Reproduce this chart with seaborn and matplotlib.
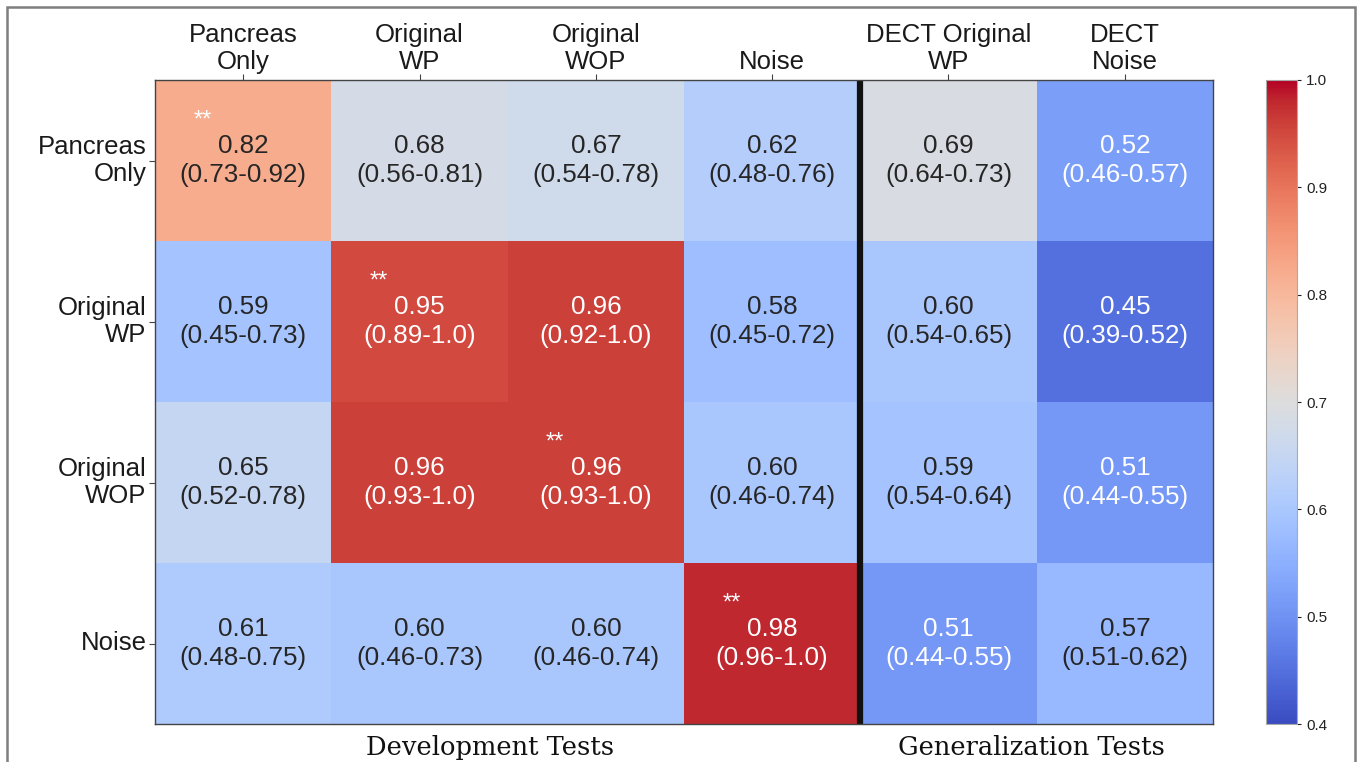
import numpy as np
import pandas as pd
import matplotlib
matplotlib.use("Agg")
import matplotlib.pyplot as plt
import seaborn as sns
from matplotlib.patches import Rectangle

train_labels = ["Pancreas\nOnly", "Original\nWP", "Original\nWOP", "Noise"]
test_labels = ["Pancreas\nOnly", "Original\nWP", "Original\nWOP", "Noise",
               "DECT Original\nWP", "DECT\nNoise"]

auc_mean = [
    [0.82, 0.68, 0.67, 0.62, 0.69, 0.52],
    [0.59, 0.95, 0.96, 0.58, 0.60, 0.45],
    [0.65, 0.96, 0.96, 0.60, 0.59, 0.51],
    [0.61, 0.60, 0.60, 0.98, 0.51, 0.57],
]
ci_text = [
    ["0.73-0.92", "0.56-0.81", "0.54-0.78", "0.48-0.76", "0.64-0.73", "0.46-0.57"],
    ["0.45-0.73", "0.89-1.0", "0.92-1.0", "0.45-0.72", "0.54-0.65", "0.39-0.52"],
    ["0.52-0.78", "0.93-1.0", "0.93-1.0", "0.46-0.74", "0.54-0.64", "0.44-0.55"],
    ["0.48-0.75", "0.46-0.73", "0.46-0.74", "0.96-1.0", "0.44-0.55", "0.51-0.62"],
]
significant = [(0, 0), (1, 1), (2, 2), (3, 3)]
group_labels = ["Development Tests", "Generalization Tests"]
colorbar_ticks = [0.4, 0.5, 0.6, 0.7, 0.8, 0.9, 1.0]

sns.set_theme(style="white")
plt.rcParams['font.family'] = ['Liberation Sans', 'DejaVu Sans']

data = pd.DataFrame(auc_mean, index=train_labels, columns=test_labels)
annot = np.array([[f"{auc_mean[i][j]:.2f}\n({ci_text[i][j]})" for j in range(6)]
                  for i in range(4)])

fig = plt.figure(figsize=(13.57, 7.62), dpi=100)
ax = fig.add_axes([155/1357, 1-724/762, (1213-155)/1357, (724-80)/762])
cax = fig.add_axes([1266/1357, 1-724/762, (1297-1266)/1357, (724-80)/762])

sns.heatmap(data, ax=ax, cbar_ax=cax, cmap="coolwarm", vmin=0.4, vmax=1.0,
            annot=annot, fmt="", annot_kws={"size": 18.7, "linespacing": 1.25},
            cbar_kws={"ticks": colorbar_ticks})

ax.xaxis.tick_top()
ax.set_xticklabels(test_labels, rotation=0, fontsize=18.5, color="#1a1a1a",
                   ha="center", linespacing=1.2)
ax.set_yticklabels(train_labels, rotation=0, fontsize=18.5, color="#1a1a1a",
                   ha="right", ma="right", linespacing=1.2)
ax.tick_params(axis="both", length=4, width=0.8, color="#444444", pad=2)
ax.tick_params(axis="x", top=True, bottom=False, pad=0)
ax.tick_params(axis="y", left=True)
ax.set_xlabel("")
ax.set_ylabel("")
for s in ax.spines.values():
    s.set_visible(True)
    s.set_color("#444444")
    s.set_linewidth(1.0)

ax.axvline(4, color="#111111", linewidth=4.5)

for (i, j) in significant:
    ax.text(j + 0.27, i + 0.25, "**", color="white", fontsize=17,
            ha="center", va="center")

ax.text(1.9, 4.07, group_labels[0], family="DejaVu Serif", fontsize=18.5,
        ha="center", va="top", color="#111111")
ax.text(4.97, 4.07, group_labels[1], family="DejaVu Serif", fontsize=18.5,
        ha="center", va="top", color="#111111")

cax.tick_params(labelsize=11, length=3, width=0.8, colors="#222222")
cbar = ax.collections[0].colorbar
cbar.outline.set_edgecolor("#aaaaaa")
cbar.outline.set_linewidth(0.8)

fig.patches.append(Rectangle((7/1357, -0.05), (1355-7)/1357, 1.05 - 7/762,
                             transform=fig.transFigure, fill=False,
                             edgecolor="#7f7f7f", linewidth=1.8))

fig.savefig("out.png", dpi=100)
